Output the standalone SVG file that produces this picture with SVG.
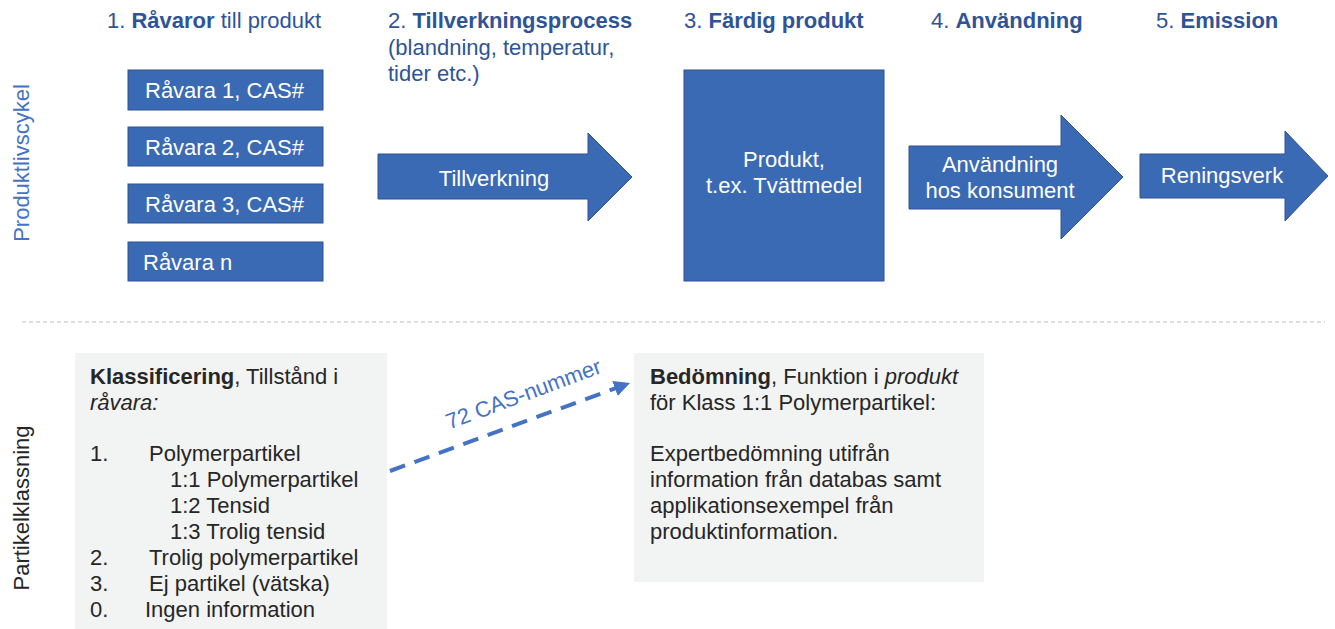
<svg xmlns="http://www.w3.org/2000/svg" width="1335" height="629" viewBox="0 0 1335 629">
  <style>
    text { font-family: "Liberation Sans", Arial, sans-serif; font-size: 22px; }
    .hdr { fill: #2E5496; }
    .b { font-weight: bold; }
    .i { font-style: italic; }
    .blk { fill: #3B6AB4; stroke: #2F528F; stroke-width: 1; }
    .wt { fill: #FFFFFF; }
    .wt-c { fill: #FFFFFF; text-anchor: middle; }
    .panel { fill: #F2F3F3; }
    .dk { fill: #262626; }
  </style>
  <defs>
    <marker id="arrowBlue" viewBox="0 0 10 10" refX="8" refY="5" markerWidth="4" markerHeight="4" orient="auto" markerUnits="strokeWidth">
      <path d="M0,0 L10,5 L0,10 Z" fill="#4472C4"/>
    </marker>
  </defs>

  <!-- side labels -->
  <text transform="translate(29,163) rotate(-90)" text-anchor="middle" fill="#4472C4">Produktlivscykel</text>
  <text transform="translate(29,508) rotate(-90)" text-anchor="middle" fill="#262626">Partikelklassning</text>

  <!-- step headings -->
  <g id="headings">
    <text x="107" y="28" class="hdr">1. <tspan class="b">Råvaror</tspan> till produkt</text>
    <text x="388" y="28" class="hdr">2. <tspan class="b">Tillverkningsprocess</tspan></text>
    <text x="388" y="55" class="hdr">(blandning, temperatur,</text>
    <text x="388" y="81" class="hdr">tider etc.)</text>
    <text x="684" y="28" class="hdr">3. <tspan class="b">Färdig produkt</tspan></text>
    <text x="931" y="28" class="hdr">4. <tspan class="b">Användning</tspan></text>
    <text x="1156" y="28" class="hdr">5. <tspan class="b">Emission</tspan></text>
  </g>

  <!-- raw materials -->
  <g id="ravara-1">
    <rect class="blk" x="128" y="70" width="195" height="40"/>
    <text class="wt" x="145" y="98">Råvara 1, CAS#</text>
  </g>
  <g id="ravara-2">
    <rect class="blk" x="128" y="127" width="195" height="39"/>
    <text class="wt" x="145" y="155">Råvara 2, CAS#</text>
  </g>
  <g id="ravara-3">
    <rect class="blk" x="128" y="184" width="195" height="39"/>
    <text class="wt" x="145" y="212">Råvara 3, CAS#</text>
  </g>
  <g id="ravara-n">
    <rect class="blk" x="128" y="242" width="195" height="39"/>
    <text class="wt" x="143" y="270">Råvara n</text>
  </g>

  <!-- process arrows and product -->
  <g id="tillverkning">
    <path class="blk" d="M378,154 H588 V133 L632,177 L588,221 V199 H378 Z"/>
    <text class="wt-c" x="494" y="186">Tillverkning</text>
  </g>
  <g id="produkt">
    <rect class="blk" x="684" y="70" width="200" height="211"/>
    <text class="wt-c" x="784" y="167">Produkt,</text>
    <text class="wt-c" x="784" y="193">t.ex. Tvättmedel</text>
  </g>
  <g id="anvandning">
    <path class="blk" d="M909,146 H1061 V115 L1123,177 L1061,239 V209 H909 Z"/>
    <text class="wt-c" x="1000" y="172">Användning</text>
    <text class="wt-c" x="1000" y="198">hos konsument</text>
  </g>
  <g id="reningsverk">
    <path class="blk" d="M1140,154 H1285 V131 L1328,176 L1285,221 V198 H1140 Z"/>
    <text class="wt-c" x="1222" y="183">Reningsverk</text>
  </g>

  <!-- section divider -->
  <line x1="22" y1="322" x2="1325" y2="322" stroke="#BFBFBF" stroke-width="1.2" stroke-dasharray="4 3"/>

  <!-- classification panel -->
  <g id="klassificering">
    <rect class="panel" x="75" y="353" width="312" height="276"/>
    <text class="dk" x="90" y="384"><tspan class="b">Klassificering</tspan>, Tillstånd i</text>
    <text class="dk i" x="90" y="410">råvara:</text>
    <text class="dk" x="90" y="461">1.</text>
    <text class="dk" x="149" y="461">Polymerpartikel</text>
    <text class="dk" x="170" y="487">1:1 Polymerpartikel</text>
    <text class="dk" x="170" y="513">1:2 Tensid</text>
    <text class="dk" x="170" y="539">1:3 Trolig tensid</text>
    <text class="dk" x="90" y="565">2.</text>
    <text class="dk" x="149" y="565">Trolig polymerpartikel</text>
    <text class="dk" x="90" y="591">3.</text>
    <text class="dk" x="149" y="591">Ej partikel (vätska)</text>
    <text class="dk" x="90" y="617">0.</text>
    <text class="dk" x="145" y="617">Ingen information</text>
  </g>

  <!-- assessment panel -->
  <g id="bedomning">
    <rect class="panel" x="634" y="353" width="350" height="229"/>
    <text class="dk" x="650" y="384"><tspan class="b">Bedömning</tspan>, Funktion i <tspan class="i">produkt</tspan></text>
    <text class="dk" x="650" y="410">för Klass 1:1 Polymerpartikel:</text>
    <text class="dk" x="650" y="461">Expertbedömning utifrån</text>
    <text class="dk" x="650" y="487">information från databas samt</text>
    <text class="dk" x="650" y="513">applikationsexempel från</text>
    <text class="dk" x="650" y="539">produktinformation.</text>
  </g>

  <!-- connectors -->
  <g id="connectors">
    <line x1="390" y1="471" x2="627" y2="384" stroke="#4472C4" stroke-width="4" stroke-dasharray="16 10" marker-end="url(#arrowBlue)"/>
    <text x="526" y="401" transform="rotate(-20.4 526 401)" text-anchor="middle" fill="#4472C4">72 CAS-nummer</text>
  </g>
</svg>
